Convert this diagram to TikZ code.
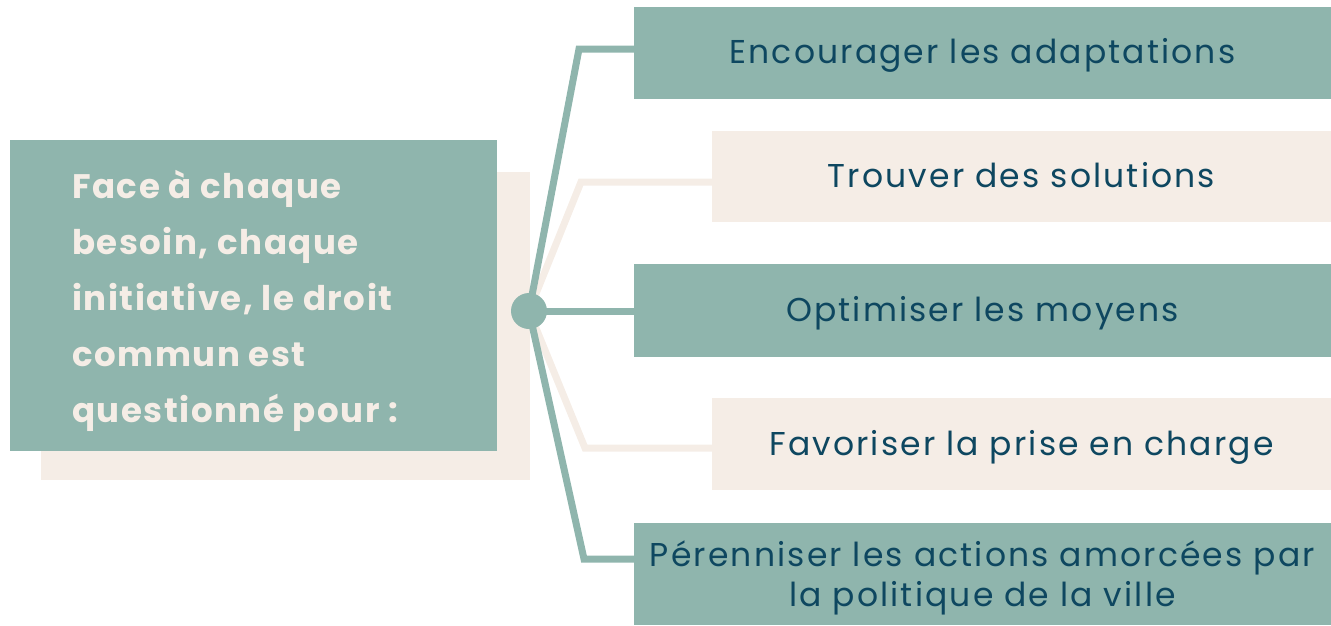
\documentclass[tikz,border=0pt]{standalone}
\usepackage{fontspec}
\setmainfont{TeX Gyre Heros}
\newfontfamily\boxfont{Poppins}[LetterSpace=6.5]
\newfontfamily\leftfont{Poppins}[LetterSpace=4.5]
\definecolor{tealc}{HTML}{8FB5AD}
\definecolor{beigec}{HTML}{F5EDE6}
\definecolor{navyc}{HTML}{0E4760}
\tikzset{
  panel/.style={inner sep=0pt, outer sep=0pt, anchor=center},
  tealbox/.style={panel, fill=tealc, minimum width=697pt},
  beigebox/.style={panel, fill=beigec, minimum width=619pt},
  boxtext/.style={text=navyc, font=\boxfont\fontsize{33}{40}\selectfont, align=center, inner sep=0pt, anchor=base},
  tealline/.style={draw=tealc, line width=7pt, line join=miter},
  beigeline/.style={draw=beigec, line width=7pt, line join=miter},
  hubdot/.style={circle, fill=tealc, minimum size=36pt, inner sep=0pt},
  leadtext/.style={text=beigec, font=\leftfont\bfseries\fontsize{34}{56}\selectfont, align=left, inner sep=0pt}
}
\begin{document}
\begin{tikzpicture}[x=1pt,y=-1pt]
\useasboundingbox (0,0) rectangle (1331,625);
% left block
\node[panel, fill=beigec, minimum width=489pt, minimum height=308pt] (back) at (285.5,326) {};
\node[panel, fill=tealc, minimum width=487pt, minimum height=311pt] (lead) at (253.5,295.5) {};
\node[leadtext, anchor=west] (leadtxt) at (72,301) {Face à chaque\\besoin, chaque\\initiative, le droit\\commun est\\questionné pour :};
% right boxes
\node[tealbox, minimum height=92pt] (b1) at (982.5,53) {};
\node[beigebox, minimum height=91pt] (b2) at (1021.5,176.5) {};
\node[tealbox, minimum height=93pt] (b3) at (982.5,310.5) {};
\node[beigebox, minimum height=92pt] (b4) at (1021.5,444) {};
\node[tealbox, minimum height=102pt] (b5) at (982.5,574) {};
\node[boxtext] (t1) at ([yshift=-10.3pt]b1.center) {Encourager les adaptations};
\node[boxtext] (t2) at ([yshift=-11pt]b2.center) {Trouver des solutions};
\node[boxtext] (t3) at ([yshift=-10.5pt]b3.center) {Optimiser les moyens};
\node[boxtext] (t4) at ([yshift=-11.5pt]b4.center) {Favoriser la prise en charge};
\node[boxtext, text width=697pt] (t5) at ([yshift=8pt]b5.center) {Pérenniser les actions amorcées par\\la politique de la ville};
% connectors
\coordinate (hubc) at (529,311);
\coordinate (k1) at (579,49);
\coordinate (k2) at (581,182);
\coordinate (k4) at (585,448);
\coordinate (k5) at (584,559);
\draw[beigeline] (hubc) -- (k2) -- (k2 -| b2.west);
\draw[beigeline] (hubc) -- (k4) -- (k4 -| b4.west);
\draw[tealline] (hubc) -- (k1) -- (k1 -| b1.west);
\draw[tealline] (hubc) -- (hubc -| b3.west);
\draw[tealline] (hubc) -- (k5) -- (k5 -| b5.west);
\node[hubdot] (hub) at (hubc) {};
\end{tikzpicture}
\end{document}
